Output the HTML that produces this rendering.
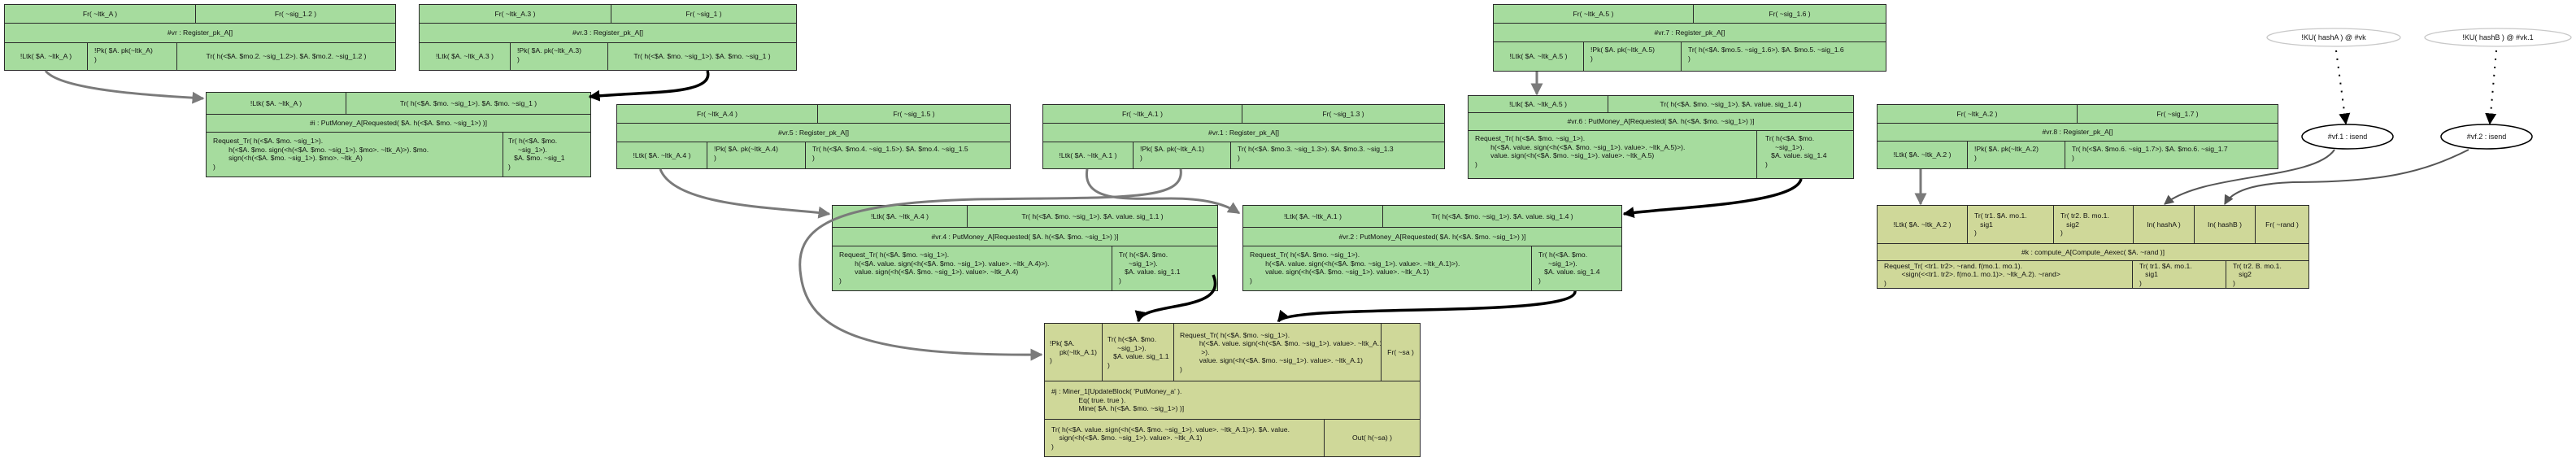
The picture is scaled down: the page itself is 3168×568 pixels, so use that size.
<!DOCTYPE html>
<html><head><meta charset="utf-8">
<style>
html,body{margin:0;padding:0;background:#fff;}
body{width:3168px;height:568px;position:relative;overflow:hidden;font-family:"Liberation Sans",Arial,sans-serif;}
.c{position:absolute;box-sizing:border-box;border:1.3px solid #2a2a2a;display:flex;align-items:center;justify-content:center;font-size:8.6px;line-height:10.5px;white-space:pre;color:#111;overflow:visible;}
.l{justify-content:flex-start;padding-left:8px;align-items:center;}
.g{background:#a6dc9e;}
.o{background:#cfd899;}
svg{position:absolute;left:0;top:0;}
</style></head><body>

<!-- vr -->
<div class="c g" style="left:5px;top:5px;width:236px;height:24px">Fr( ~ltk_A )</div>
<div class="c g" style="left:240px;top:5px;width:247px;height:24px">Fr( ~sig_1.2 )</div>
<div class="c g" style="left:5px;top:28px;width:482px;height:25px">#vr : Register_pk_A[]</div>
<div class="c g" style="left:5px;top:52px;width:103px;height:35px">!Ltk( $A. ~ltk_A )</div>
<div class="c g l" style="left:107px;top:52px;width:111px;height:35px;align-items:flex-start;padding-top:4px">!Pk( $A. pk(~ltk_A)
)</div>
<div class="c g" style="left:217px;top:52px;width:270px;height:35px">Tr( h(&lt;$A. $mo.2. ~sig_1.2&gt;). $A. $mo.2. ~sig_1.2 )</div>

<!-- vr.3 -->
<div class="c g" style="left:515px;top:5px;width:237px;height:24px">Fr( ~ltk_A.3 )</div>
<div class="c g" style="left:751px;top:5px;width:229px;height:24px">Fr( ~sig_1 )</div>
<div class="c g" style="left:515px;top:28px;width:465px;height:25px">#vr.3 : Register_pk_A[]</div>
<div class="c g" style="left:515px;top:52px;width:113px;height:35px">!Ltk( $A. ~ltk_A.3 )</div>
<div class="c g l" style="left:627px;top:52px;width:121px;height:35px;align-items:flex-start;padding-top:4px">!Pk( $A. pk(~ltk_A.3)
)</div>
<div class="c g" style="left:747px;top:52px;width:233px;height:35px">Tr( h(&lt;$A. $mo. ~sig_1&gt;). $A. $mo. ~sig_1 )</div>

<!-- #i -->
<div class="c g" style="left:253px;top:113px;width:173px;height:28px">!Ltk( $A. ~ltk_A )</div>
<div class="c g" style="left:425px;top:113px;width:302px;height:28px">Tr( h(&lt;$A. $mo. ~sig_1&gt;). $A. $mo. ~sig_1 )</div>
<div class="c g" style="left:253px;top:140px;width:474px;height:23px">#i : PutMoney_A[Requested( $A. h(&lt;$A. $mo. ~sig_1&gt;) )]</div>
<div class="c g l" style="left:253px;top:162px;width:366px;height:56px;align-items:flex-start;padding-top:5px">Request_Tr( h(&lt;$A. $mo. ~sig_1&gt;).
        h(&lt;$A. $mo. sign(&lt;h(&lt;$A. $mo. ~sig_1&gt;). $mo&gt;. ~ltk_A)&gt;). $mo.
        sign(&lt;h(&lt;$A. $mo. ~sig_1&gt;). $mo&gt;. ~ltk_A)
)</div>
<div class="c g l" style="left:618px;top:162px;width:109px;height:56px;align-items:flex-start;padding-top:5px;padding-left:6px">Tr( h(&lt;$A. $mo.
     ~sig_1&gt;).
   $A. $mo. ~sig_1
)</div>

<!-- vr.5 -->
<div class="c g" style="left:758px;top:128px;width:248px;height:24px">Fr( ~ltk_A.4 )</div>
<div class="c g" style="left:1005px;top:128px;width:238px;height:24px">Fr( ~sig_1.5 )</div>
<div class="c g" style="left:758px;top:151px;width:485px;height:24px">#vr.5 : Register_pk_A[]</div>
<div class="c g" style="left:758px;top:174px;width:112px;height:34px">!Ltk( $A. ~ltk_A.4 )</div>
<div class="c g l" style="left:869px;top:174px;width:122px;height:34px;align-items:flex-start;padding-top:3px">!Pk( $A. pk(~ltk_A.4)
)</div>
<div class="c g l" style="left:990px;top:174px;width:253px;height:34px;align-items:flex-start;padding-top:3px">Tr( h(&lt;$A. $mo.4. ~sig_1.5&gt;). $A. $mo.4. ~sig_1.5
)</div>

<!-- vr.1 -->
<div class="c g" style="left:1282px;top:128px;width:246px;height:24px">Fr( ~ltk_A.1 )</div>
<div class="c g" style="left:1527px;top:128px;width:250px;height:24px">Fr( ~sig_1.3 )</div>
<div class="c g" style="left:1282px;top:151px;width:495px;height:24px">#vr.1 : Register_pk_A[]</div>
<div class="c g" style="left:1282px;top:174px;width:112px;height:34px">!Ltk( $A. ~ltk_A.1 )</div>
<div class="c g l" style="left:1393px;top:174px;width:121px;height:34px;align-items:flex-start;padding-top:3px">!Pk( $A. pk(~ltk_A.1)
)</div>
<div class="c g l" style="left:1513px;top:174px;width:264px;height:34px;align-items:flex-start;padding-top:3px">Tr( h(&lt;$A. $mo.3. ~sig_1.3&gt;). $A. $mo.3. ~sig_1.3
)</div>

<!-- vr.4 -->
<div class="c g" style="left:1023px;top:252px;width:167px;height:28px">!Ltk( $A. ~ltk_A.4 )</div>
<div class="c g" style="left:1189px;top:252px;width:309px;height:28px">Tr( h(&lt;$A. $mo. ~sig_1&gt;). $A. value. sig_1.1 )</div>
<div class="c g" style="left:1023px;top:279px;width:475px;height:24px">#vr.4 : PutMoney_A[Requested( $A. h(&lt;$A. $mo. ~sig_1&gt;) )]</div>
<div class="c g l" style="left:1023px;top:302px;width:345px;height:56px;align-items:flex-start;padding-top:5px">Request_Tr( h(&lt;$A. $mo. ~sig_1&gt;).
        h(&lt;$A. value. sign(&lt;h(&lt;$A. $mo. ~sig_1&gt;). value&gt;. ~ltk_A.4)&gt;).
        value. sign(&lt;h(&lt;$A. $mo. ~sig_1&gt;). value&gt;. ~ltk_A.4)
)</div>
<div class="c g l" style="left:1367px;top:302px;width:131px;height:56px;align-items:flex-start;padding-top:5px;padding-left:8px">Tr( h(&lt;$A. $mo.
     ~sig_1&gt;).
   $A. value. sig_1.1
)</div>

<!-- vr.2 -->
<div class="c g" style="left:1528px;top:252px;width:173px;height:28px">!Ltk( $A. ~ltk_A.1 )</div>
<div class="c g" style="left:1700px;top:252px;width:295px;height:28px">Tr( h(&lt;$A. $mo. ~sig_1&gt;). $A. value. sig_1.4 )</div>
<div class="c g" style="left:1528px;top:279px;width:467px;height:24px">#vr.2 : PutMoney_A[Requested( $A. h(&lt;$A. $mo. ~sig_1&gt;) )]</div>
<div class="c g l" style="left:1528px;top:302px;width:356px;height:56px;align-items:flex-start;padding-top:5px">Request_Tr( h(&lt;$A. $mo. ~sig_1&gt;).
        h(&lt;$A. value. sign(&lt;h(&lt;$A. $mo. ~sig_1&gt;). value&gt;. ~ltk_A.1)&gt;).
        value. sign(&lt;h(&lt;$A. $mo. ~sig_1&gt;). value&gt;. ~ltk_A.1)
)</div>
<div class="c g l" style="left:1883px;top:302px;width:112px;height:56px;align-items:flex-start;padding-top:5px;padding-left:8px">Tr( h(&lt;$A. $mo.
     ~sig_1&gt;).
   $A. value. sig_1.4
)</div>

<!-- #j -->
<div class="c o l" style="left:1284px;top:397px;width:72px;height:72px;padding-left:6px">!Pk( $A.
     pk(~ltk_A.1)
)</div>
<div class="c o l" style="left:1355px;top:397px;width:89px;height:72px;padding-left:6px">Tr( h(&lt;$A. $mo.
     ~sig_1&gt;).
   $A. value. sig_1.1
)</div>
<div class="c o l" style="left:1443px;top:397px;width:256px;height:72px;padding-left:7px">Request_Tr( h(&lt;$A. $mo. ~sig_1&gt;).
          h(&lt;$A. value. sign(&lt;h(&lt;$A. $mo. ~sig_1&gt;). value&gt;. ~ltk_A.1)
           &gt;).
          value. sign(&lt;h(&lt;$A. $mo. ~sig_1&gt;). value&gt;. ~ltk_A.1)
)</div>
<div class="c o" style="left:1698px;top:397px;width:49px;height:72px">Fr( ~sa )</div>
<div class="c o l" style="left:1284px;top:468px;width:463px;height:48px">#j : Miner_1[UpdateBlock( 'PutMoney_a' ).
              Eq( true. true ).
              Mine( $A. h(&lt;$A. $mo. ~sig_1&gt;) )]</div>
<div class="c o l" style="left:1284px;top:515px;width:345px;height:47px">Tr( h(&lt;$A. value. sign(&lt;h(&lt;$A. $mo. ~sig_1&gt;). value&gt;. ~ltk_A.1)&gt;). $A. value.
    sign(&lt;h(&lt;$A. $mo. ~sig_1&gt;). value&gt;. ~ltk_A.1)
)</div>
<div class="c o" style="left:1628px;top:515px;width:119px;height:47px">Out( h(~sa) )</div>

<!-- vr.7 -->
<div class="c g" style="left:1836px;top:5px;width:247px;height:24px">Fr( ~ltk_A.5 )</div>
<div class="c g" style="left:2082px;top:5px;width:238px;height:24px">Fr( ~sig_1.6 )</div>
<div class="c g" style="left:1836px;top:28px;width:484px;height:24px">#vr.7 : Register_pk_A[]</div>
<div class="c g" style="left:1836px;top:51px;width:112px;height:37px">!Ltk( $A. ~ltk_A.5 )</div>
<div class="c g l" style="left:1947px;top:51px;width:121px;height:37px;align-items:flex-start;padding-top:4px">!Pk( $A. pk(~ltk_A.5)
)</div>
<div class="c g l" style="left:2067px;top:51px;width:253px;height:37px;align-items:flex-start;padding-top:4px">Tr( h(&lt;$A. $mo.5. ~sig_1.6&gt;). $A. $mo.5. ~sig_1.6
)</div>

<!-- vr.6 -->
<div class="c g" style="left:1805px;top:117px;width:173px;height:22px">!Ltk( $A. ~ltk_A.5 )</div>
<div class="c g" style="left:1977px;top:117px;width:303px;height:22px">Tr( h(&lt;$A. $mo. ~sig_1&gt;). $A. value. sig_1.4 )</div>
<div class="c g" style="left:1805px;top:138px;width:475px;height:23px">#vr.6 : PutMoney_A[Requested( $A. h(&lt;$A. $mo. ~sig_1&gt;) )]</div>
<div class="c g l" style="left:1805px;top:160px;width:356px;height:60px;align-items:flex-start;padding-top:4px">Request_Tr( h(&lt;$A. $mo. ~sig_1&gt;).
        h(&lt;$A. value. sign(&lt;h(&lt;$A. $mo. ~sig_1&gt;). value&gt;. ~ltk_A.5)&gt;).
        value. sign(&lt;h(&lt;$A. $mo. ~sig_1&gt;). value&gt;. ~ltk_A.5)
)</div>
<div class="c g l" style="left:2160px;top:160px;width:120px;height:60px;align-items:flex-start;padding-top:4px;padding-left:10px">Tr( h(&lt;$A. $mo.
     ~sig_1&gt;).
   $A. value. sig_1.4
)</div>

<!-- vr.8 -->
<div class="c g" style="left:2308px;top:128px;width:247px;height:24px">Fr( ~ltk_A.2 )</div>
<div class="c g" style="left:2554px;top:128px;width:248px;height:24px">Fr( ~sig_1.7 )</div>
<div class="c g" style="left:2308px;top:151px;width:494px;height:23px">#vr.8 : Register_pk_A[]</div>
<div class="c g" style="left:2308px;top:173px;width:112px;height:35px">!Ltk( $A. ~ltk_A.2 )</div>
<div class="c g l" style="left:2419px;top:173px;width:121px;height:35px;align-items:flex-start;padding-top:4px">!Pk( $A. pk(~ltk_A.2)
)</div>
<div class="c g l" style="left:2539px;top:173px;width:263px;height:35px;align-items:flex-start;padding-top:4px">Tr( h(&lt;$A. $mo.6. ~sig_1.7&gt;). $A. $mo.6. ~sig_1.7
)</div>

<!-- #k -->
<div class="c o" style="left:2308px;top:252px;width:112px;height:48px">!Ltk( $A. ~ltk_A.2 )</div>
<div class="c o l" style="left:2419px;top:252px;width:107px;height:48px">Tr( tr1. $A. mo.1.
   sig1
)</div>
<div class="c o l" style="left:2525px;top:252px;width:99px;height:48px">Tr( tr2. B. mo.1.
   sig2
)</div>
<div class="c o" style="left:2623px;top:252px;width:76px;height:48px">In( hashA )</div>
<div class="c o" style="left:2698px;top:252px;width:76px;height:48px">In( hashB )</div>
<div class="c o" style="left:2773px;top:252px;width:67px;height:48px">Fr( ~rand )</div>
<div class="c o" style="left:2308px;top:299px;width:532px;height:22px">#k : compute_A[Compute_Aexec( $A. ~rand )]</div>
<div class="c o l" style="left:2308px;top:320px;width:315px;height:35px">Request_Tr( &lt;tr1. tr2&gt;. ~rand. f(mo.1. mo.1).
         &lt;sign(&lt;&lt;tr1. tr2&gt;. f(mo.1. mo.1)&gt;. ~ltk_A.2). ~rand&gt;
)</div>
<div class="c o l" style="left:2622px;top:320px;width:116px;height:35px">Tr( tr1. $A. mo.1.
   sig1
)</div>
<div class="c o l" style="left:2737px;top:320px;width:103px;height:35px">Tr( tr2. B. mo.1.
   sig2
)</div>

<svg width="3168" height="568" viewBox="0 0 3168 568">
<defs>
<marker id="ag" viewBox="0 0 10 10" refX="9" refY="5" markerWidth="5" markerHeight="5" orient="auto"><path d="M0,0L10,5L0,10z" fill="#7a7a7a"/></marker>
<marker id="ab" viewBox="0 0 10 10" refX="9" refY="5" markerWidth="4" markerHeight="4" orient="auto"><path d="M0,0L10,5L0,10z" fill="#000"/></marker>
<marker id="ad" viewBox="0 0 10 10" refX="9" refY="5" markerWidth="6" markerHeight="6" orient="auto"><path d="M0,0L10,5L0,10z" fill="#555"/></marker>
<marker id="ak" viewBox="0 0 10 10" refX="9" refY="5" markerWidth="7" markerHeight="7" orient="auto"><path d="M0,0L10,5L0,10z" fill="#000"/></marker>
</defs>
<g fill="none">
<path d="M56,87 C75,112 200,118 250,121" stroke="#7a7a7a" stroke-width="3" marker-end="url(#ag)"/>
<path d="M870,87 C880,118 790,112 725,119" stroke="#000" stroke-width="3.5" marker-end="url(#ab)"/>
<path d="M812,208 C830,255 960,255 1020,263" stroke="#7a7a7a" stroke-width="3" marker-end="url(#ag)"/>
<path d="M1337,208 C1330,250 1390,244 1440,244 C1480,244 1505,250 1524,262" stroke="#7a7a7a" stroke-width="3" marker-end="url(#ag)"/>
<path d="M1452,208 C1458,248 1380,242 1200,245 C1020,250 975,280 985,340 C995,410 1070,438 1281,436" stroke="#7a7a7a" stroke-width="3" marker-end="url(#ag)"/>
<path d="M1492,338 C1512,385 1405,370 1400,395" stroke="#000" stroke-width="3.5" marker-end="url(#ab)"/>
<path d="M1937,358 C1940,392 1590,372 1572,395" stroke="#000" stroke-width="3.5" marker-end="url(#ab)"/>
<path d="M2215,220 C2208,252 2050,255 1997,263" stroke="#000" stroke-width="3.5" marker-end="url(#ab)"/>
<path d="M1890,88 L1890,116" stroke="#7a7a7a" stroke-width="3" marker-end="url(#ag)"/>
<path d="M2362,208 L2362,251" stroke="#7a7a7a" stroke-width="3" marker-end="url(#ag)"/>
<path d="M2871,184 C2845,222 2710,212 2662,251" stroke="#555" stroke-width="2" marker-end="url(#ad)"/>
<path d="M3036,184 C2980,212 2930,224 2820,224 C2770,226 2745,235 2736,251" stroke="#555" stroke-width="2" marker-end="url(#ad)"/>
<path d="M2873,62 L2885,152" stroke="#000" stroke-width="2" stroke-dasharray="2,8" marker-end="url(#ak)"/>
<path d="M3070,62 L3062,152" stroke="#000" stroke-width="2" stroke-dasharray="2,8" marker-end="url(#ak)"/>
</g>
<ellipse cx="2870" cy="46" rx="82" ry="11" fill="#fff" stroke="#c8c8c8" stroke-width="1.3"/>
<ellipse cx="3072" cy="46" rx="90" ry="11" fill="#fff" stroke="#c8c8c8" stroke-width="1.3"/>
<ellipse cx="2887" cy="168" rx="56" ry="15" fill="#fff" stroke="#000" stroke-width="1.5"/>
<ellipse cx="3058" cy="168" rx="56" ry="15" fill="#fff" stroke="#000" stroke-width="1.5"/>
<g font-family="Liberation Sans, Arial, sans-serif" font-size="9" text-anchor="middle" fill="#111">
<text x="2870" y="49">!KU( hashA ) @ #vk</text>
<text x="3072" y="49">!KU( hashB ) @ #vk.1</text>
<text x="2887" y="171">#vf.1 : isend</text>
<text x="3058" y="171">#vf.2 : isend</text>
</g>
</svg>
</body></html>
